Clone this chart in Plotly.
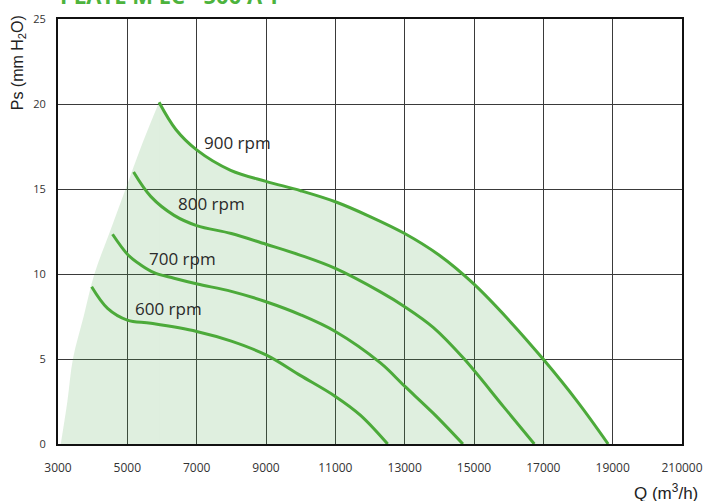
import plotly.graph_objects as go

# ---- data ----
q_900 = [5915, 6400, 7000, 7980, 9000, 10000, 11000, 12000, 13000, 14000, 15000, 16000, 17000, 18000, 18870]
p_900 = [20.1, 18.5, 17.3, 16.1, 15.45, 14.9, 14.25, 13.38, 12.38, 11.1, 9.4, 7.3, 4.98, 2.45, 0]

q_800 = [5180, 5680, 6350, 7000, 8000, 9000, 10000, 11000, 12300, 13000, 13830, 14700, 15850, 16740]
p_800 = [16.0, 14.55, 13.45, 12.85, 12.38, 11.75, 11.1, 10.33, 8.95, 8.08, 6.85, 5.04, 2.2, 0]

q_700 = [4573, 5022, 5388, 5771, 6346, 7020, 8000, 9000, 10000, 11000, 12300, 13000, 13830, 14680]
p_700 = [12.34, 11.12, 10.53, 10.08, 9.75, 9.41, 8.98, 8.37, 7.6, 6.62, 4.77, 3.4, 1.8, 0]

q_600 = [3970, 4430, 5000, 5680, 7000, 8000, 9000, 10000, 11000, 11720, 12510]
p_600 = [9.25, 7.98, 7.29, 7.1, 6.62, 6.05, 5.24, 4.02, 2.8, 1.7, 0]

# left envelope of the operating area
q_env = [3080, 3270, 3430, 3740, 4050, 4500, 4950, 5400, 5915]
p_env = [0, 2.5, 5, 7.5, 10, 12.5, 15, 17.5, 20.1]

curves = [("900 rpm", q_900, p_900), ("800 rpm", q_800, p_800),
          ("700 rpm", q_700, p_700), ("600 rpm", q_600, p_600)]

# label anchor points (left edge, centre)
label_q = [7150, 6400, 5560, 5160]
label_p = [17.76, 14.12, 10.92, 8.0]

x_ticks = [3000, 5000, 7000, 9000, 11000, 13000, 15000, 17000, 19000, 21000]
x_ticktext = ["3000", "5000", "7000", "9000", "11000", "13000", "15000", "17000", "19000", "210000"]
y_ticks = [0, 5, 10, 15, 20, 25]

LINE = "#4CAA3A"
FILL = "rgba(80,165,80,0.18)"

fig = go.Figure()

# fill area: envelope + 900 rpm curve down to zero
fig.add_trace(go.Scatter(x=q_env, y=p_env, mode="lines", line=dict(width=0, shape="spline"),
                         fill="tozeroy", fillcolor=FILL, hoverinfo="skip", showlegend=False))
fig.add_trace(go.Scatter(x=q_900, y=p_900, mode="lines", line=dict(width=0, shape="spline"),
                         fill="tozeroy", fillcolor=FILL, hoverinfo="skip", showlegend=False))

for name, q, p in curves:
    fig.add_trace(go.Scatter(x=q, y=p, mode="lines", name=name,
                             line=dict(color=LINE, width=3, shape="spline", smoothing=1.0),
                             showlegend=False))

for (name, _, _), lq, lp in zip(curves, label_q, label_p):
    fig.add_annotation(x=lq, y=lp, text=name, showarrow=False, xanchor="left", yanchor="middle",
                       font=dict(family="Open Sans", size=17, color="#2a2a2a"))

# clipped title at the very top
fig.add_annotation(xref="paper", yref="paper", x=0.0, y=1.017, xanchor="left", yanchor="bottom",
                   text="<b>PLATE M EC - 500 A T</b>", showarrow=False,
                   font=dict(family="Open Sans", size=22, color="#4DB33D"))

# axis titles
fig.add_annotation(xref="paper", yref="paper", x=-0.064, y=0.896, xanchor="center", yanchor="middle",
                   text="Ps (mm H<sub>2</sub>O)", textangle=-90, showarrow=False,
                   font=dict(family="Liberation Sans Narrow, Liberation Sans", size=16, color="#222"))
fig.add_annotation(xref="paper", yref="paper", x=1.029, y=-0.113, xanchor="right", yanchor="middle",
                   text="Q (m<sup>3</sup>/h)", showarrow=False,
                   font=dict(family="Liberation Sans Narrow, Liberation Sans", size=17, color="#222"))

fig.update_layout(
    width=705, height=501,
    margin=dict(l=58, r=23, t=19, b=57),
    paper_bgcolor="white", plot_bgcolor="white",
    showlegend=False,
)
fig.update_xaxes(range=[3000, 21000], tickvals=x_ticks, ticktext=x_ticktext, automargin=False,
                 showgrid=True, gridcolor="#3a3a3a", gridwidth=1.3,
                 showline=True, linecolor="#111", linewidth=2, mirror=True,
                 zeroline=False, ticks="", ticklabelstandoff=12,
                 tickfont=dict(family="Open Sans", size=12, color="#333"))
fig.update_yaxes(range=[0, 25], tickvals=y_ticks, automargin=False,
                 showgrid=True, gridcolor="#3a3a3a", gridwidth=1.3,
                 showline=True, linecolor="#111", linewidth=2, mirror=True,
                 zeroline=False, ticks="", ticklabelstandoff=8,
                 tickfont=dict(family="Open Sans", size=11, color="#333"))

fig.write_html("out.html", config={"displayModeBar": False},
               post_script="document.body.style.margin='0px';")
